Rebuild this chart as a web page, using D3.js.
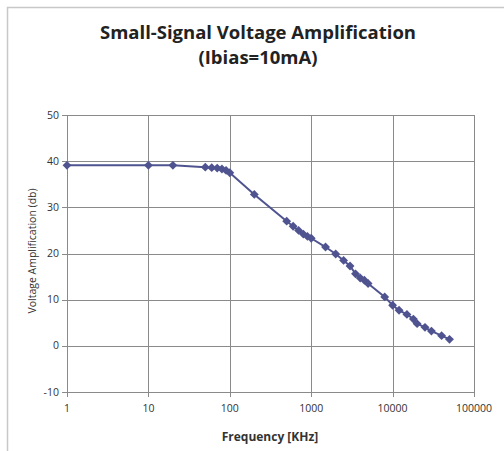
<!DOCTYPE html>
<html>
<head>
  <meta charset="utf-8">
  <script src="https://d3js.org/d3.v7.min.js"></script>
  <style>
    body { margin:0; background:#fff; font-family: "Open Sans", sans-serif; }
  </style>
</head>
<body>
  <script>
    // frequency in KHz, amplification in db
    var freq = [1, 10, 20, 50, 60, 70, 80, 90, 100, 200, 500, 600, 700, 800, 900, 1000,
                1500, 2000, 2500, 3000, 3500, 4000, 4500, 5000, 8000, 10000, 12000,
                15000, 18000, 20000, 25000, 30000, 40000, 50000];
    var gain = [39.1, 39.1, 39.1, 38.7, 38.6, 38.5, 38.3, 38.0, 37.5, 32.8, 27.0, 25.9, 25.0,
                24.2, 23.7, 23.3, 21.4, 19.9, 18.5, 17.3, 15.6, 14.7, 14.2, 13.5, 10.6, 8.8,
                7.7, 6.8, 5.8, 4.8, 4.0, 3.2, 2.2, 1.4];
    var xTicks = [1, 10, 100, 1000, 10000, 100000];
    var yTicks = [-10, 0, 10, 20, 30, 40, 50];

    var w = 504, h = 451;
    var color = "#4f5490";
    var grid = "#8a8a8a";

    var svg = d3.select("body").append("svg")
      .attr("width", w)
      .attr("height", h);

    // outer frame (top and left edges show)
    svg.append("path")
      .attr("d", "M7.5," + h + "V7.5H" + w)
      .attr("fill", "none")
      .attr("stroke", "#c8c8c8")
      .attr("stroke-width", 1.5);

    var x = d3.scaleLog().domain([1, 100000]).range([67, 474]);
    var y = d3.scaleLinear().domain([-10, 50]).range([392, 115]);

    // horizontal gridlines
    svg.append("g").selectAll("line")
      .data(yTicks)
      .enter().append("line")
      .attr("x1", x(1) - 5).attr("x2", x(100000))
      .attr("y1", function(d){ return Math.round(y(d)) + 0.5; })
      .attr("y2", function(d){ return Math.round(y(d)) + 0.5; })
      .attr("stroke", grid);

    // vertical gridlines
    svg.append("g").selectAll("line")
      .data(xTicks)
      .enter().append("line")
      .attr("x1", function(d){ return Math.round(x(d)) + 0.5; })
      .attr("x2", function(d){ return Math.round(x(d)) + 0.5; })
      .attr("y1", y(50)).attr("y2", y(-10) + 5)
      .attr("stroke", grid);

    // tick labels
    svg.append("g").selectAll("text")
      .data(yTicks)
      .enter().append("text")
      .attr("x", x(1) - 8)
      .attr("y", function(d){ return y(d) + 3.5; })
      .attr("text-anchor", "end")
      .attr("font-size", 10.5)
      .attr("fill", "#333")
      .text(function(d){ return d; });

    svg.append("g").selectAll("text")
      .data(xTicks)
      .enter().append("text")
      .attr("x", function(d){ return x(d); })
      .attr("y", y(-10) + 20)
      .attr("text-anchor", "middle")
      .attr("font-size", 10.5)
      .attr("fill", "#333")
      .text(function(d){ return d; });

    // data
    var pts = freq.map(function(f, i){ return [f, gain[i]]; });

    svg.append("path")
      .datum(pts)
      .attr("fill", "none")
      .attr("stroke", color)
      .attr("stroke-width", 2)
      .attr("d", d3.line()
        .x(function(d){ return x(d[0]); })
        .y(function(d){ return y(d[1]); }));

    svg.append("g").selectAll("path")
      .data(pts)
      .enter().append("path")
      .attr("transform", function(d){ return "translate(" + x(d[0]) + "," + y(d[1]) + ")"; })
      .attr("d", d3.symbol().type(d3.symbolDiamond2).size(50))
      .attr("fill", color);

    // titles
    var title = svg.append("text")
      .attr("text-anchor", "middle")
      .attr("font-weight", "bold")
      .attr("font-size", 18.5)
      .attr("fill", "#222");
    title.append("tspan").attr("x", 258).attr("y", 39).text("Small-Signal Voltage Amplification");
    title.append("tspan").attr("x", 258).attr("y", 64).text("(Ibias=10mA)");

    svg.append("text")
      .attr("x", 270)
      .attr("y", 441)
      .attr("text-anchor", "middle")
      .attr("font-weight", "bold")
      .attr("font-size", 12)
      .attr("fill", "#333")
      .text("Frequency [KHz]");

    svg.append("text")
      .attr("transform", "translate(36,251) rotate(-90)")
      .attr("text-anchor", "middle")
      .attr("font-size", 10.5)
      .attr("fill", "#333")
      .text("Voltage Amplification (db)");
  </script>
</body>
</html>
